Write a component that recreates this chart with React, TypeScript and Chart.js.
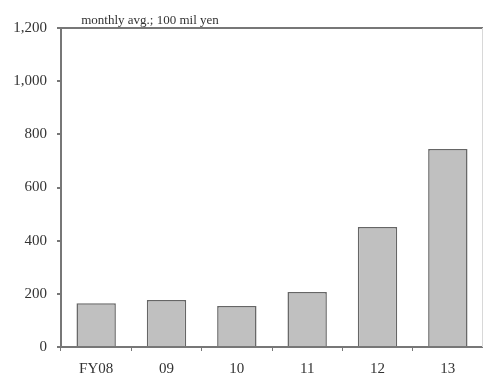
import React, { useEffect, useRef } from "react";
import { Chart, registerables } from "chart.js";

Chart.register(...registerables);

const categories = ["FY08", "09", "10", "11", "12", "13"];
const values = [165, 177, 154, 207, 451, 745];
const yTicks = [0, 200, 400, 600, 800, 1000, 1200];
const unitLabel = "monthly avg.; 100 mil yen";

const FONT = "'Liberation Serif', 'Times New Roman', serif";

const titlePlugin = {
  id: "unitTitle",
  afterDraw(chart: any) {
    const { ctx, chartArea } = chart;
    ctx.save();
    ctx.font = `13px ${FONT}`;
    ctx.fillStyle = "#333";
    ctx.textAlign = "center";
    ctx.textBaseline = "bottom";
    ctx.fillText(unitLabel, 150, chartArea.top - 1);
    ctx.strokeStyle = "#d8d8d8";
    ctx.lineWidth = 1;
    ctx.beginPath();
    ctx.moveTo(chartArea.right - 0.5, chartArea.top);
    ctx.lineTo(chartArea.right - 0.5, chartArea.bottom);
    ctx.stroke();
    ctx.restore();
  },
};

export default function App() {
  const ref = useRef<HTMLCanvasElement>(null);
  useEffect(() => {
    const chart = new Chart(ref.current!, {
      type: "bar",
      data: {
        labels: categories,
        datasets: [
          {
            data: values,
            backgroundColor: "#c0c0c0",
            borderColor: "#666666",
            borderWidth: 1.5,
            barPercentage: 0.56,
            categoryPercentage: 1,
          },
        ],
      },
      options: {
        animation: false,
        responsive: false,
        maintainAspectRatio: false,
        layout: { padding: { top: 28, right: 0, left: 0, bottom: 0 } },
        plugins: { legend: { display: false }, tooltip: { enabled: false } },
        scales: {
          x: {
            offset: true,
            border: { display: true, color: "#777", width: 2 },
            grid: {
              offset: true,
              drawOnChartArea: false,
              color: "#777",
              tickColor: "#777",
              tickLength: 4,
            },
            ticks: {
              font: { family: FONT, size: 15 },
              color: "#333",
              padding: 9,
            },
            afterFit: (s: any) => {
              s.height = 27;
            },
          },
          y: {
            min: 0,
            max: 1200,
            afterBuildTicks: (s: any) => {
              s.ticks = yTicks.map((v) => ({ value: v }));
            },
            border: { display: true, color: "#777", width: 2 },
            grid: {
              color: (c: any) => (c.tick && c.tick.value === 1200 ? "#777" : "rgba(0,0,0,0)"),
              lineWidth: 2,
              tickColor: "#777",
              tickLength: 4,
            },
            ticks: {
              font: { family: FONT, size: 15 },
              color: "#333",
              padding: 10,
              callback: (v: any) => Number(v).toLocaleString("en-US"),
            },
            afterFit: (s: any) => {
              s.width = 61;
            },
          },
        },
      },
      plugins: [titlePlugin],
    });
    return () => chart.destroy();
  }, []);
  return (
    <div style={{ position: "absolute", left: 0, top: 0, width: 483, height: 374 }}>
      <canvas ref={ref} width={483} height={374} style={{ display: "block" }} />
    </div>
  );
}
